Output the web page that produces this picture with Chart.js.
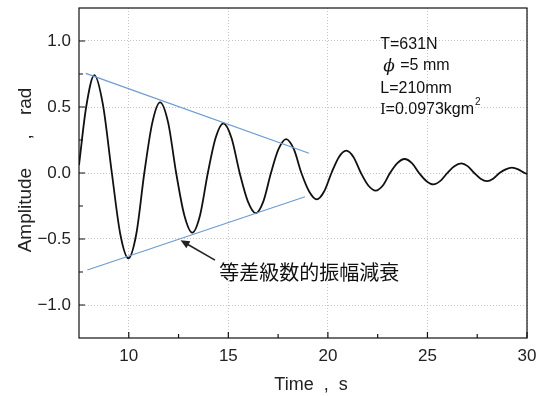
<!DOCTYPE html>
<html lang="ja">
<head>
<meta charset="UTF-8">
<title>Amplitude decay</title>
<script src="https://cdn.jsdelivr.net/npm/chart.js"></script>
<style>
  html, body { margin: 0; padding: 0; background: #fff; }
  #wrap { width: 540px; height: 396px; }
</style>
</head>
<body>
<div id="wrap"><canvas id="chart" width="540" height="396"></canvas></div>
<script>
// free oscillation record (peaks, troughs, zero crossings and mid points)
const timeS = [7.5, 7.86, 8.27, 8.7, 9.15, 9.57, 9.98, 10.38, 10.78, 11.18,
               11.57, 11.98, 12.38, 12.79, 13.19, 13.58, 13.97, 14.36, 14.75, 15.16,
               15.57, 15.98, 16.38, 16.76, 17.14, 17.52, 17.9, 18.29, 18.67, 19.06,
               19.44, 19.81, 20.18, 20.55, 20.92, 21.29, 21.66, 22.03, 22.4, 22.76,
               23.12, 23.49, 23.85, 24.22, 24.58, 24.94, 25.3, 25.65, 26.0, 26.35,
               26.7, 27.02, 27.35, 27.67, 27.99, 28.3, 28.62, 28.93, 29.24, 29.56,
               29.88, 30.0];
const ampRad = [0.06, 0.5, 0.742, 0.52, 0, -0.46, -0.646, -0.46, 0, 0.38,
                0.535, 0.38, 0, -0.32, -0.452, -0.32, 0, 0.265, 0.376, 0.265,
                0, -0.215, -0.305, -0.215, 0, 0.18, 0.256, 0.18, 0, -0.14,
                -0.2, -0.14, 0, 0.12, 0.169, 0.12, 0, -0.095, -0.134, -0.095,
                0, 0.075, 0.106, 0.075, 0, -0.06, -0.086, -0.06, 0, 0.052,
                0.073, 0.052, 0, -0.043, -0.061, -0.043, 0, 0.028, 0.04, 0.028,
                0, -0.006];

// straight envelopes (arithmetic decay)
const upperT = [7.84, 19.05];
const upperA = [0.755, 0.15];
const lowerT = [7.92, 18.85];
const lowerA = [-0.735, -0.18];

const xTicks = [10, 15, 20, 25, 30];
const xMinor = [12.5, 17.5, 22.5, 27.5];
const yTicks = [-1.0, -0.5, 0.0, 0.5, 1.0];
const yMinor = [-0.75, -0.25, 0.25, 0.75];

const pts = (xs, ys) => xs.map((v, i) => ({ x: v, y: ys[i] }));
const SANS = '"Liberation Sans", Arial, sans-serif';

// box, inward ticks, axis titles, parameter notes and the arrow label
const decor = {
  id: 'decor',
  afterDraw(chart) {
    const { ctx, chartArea: a, scales: { x, y } } = chart;
    ctx.save();
    ctx.strokeStyle = '#111';
    ctx.lineWidth = 1.2;
    ctx.strokeRect(a.left, a.top, a.right - a.left, a.bottom - a.top);

    ctx.beginPath();
    xTicks.forEach(v => { const p = x.getPixelForValue(v); ctx.moveTo(p, a.bottom); ctx.lineTo(p, a.bottom - 6); });
    xMinor.forEach(v => { const p = x.getPixelForValue(v); ctx.moveTo(p, a.bottom); ctx.lineTo(p, a.bottom - 4); });
    yTicks.forEach(v => { const p = y.getPixelForValue(v); ctx.moveTo(a.left, p); ctx.lineTo(a.left + 6, p); });
    yMinor.forEach(v => { const p = y.getPixelForValue(v); ctx.moveTo(a.left, p); ctx.lineTo(a.left + 4, p); });
    ctx.stroke();

    ctx.fillStyle = '#222';
    ctx.textBaseline = 'middle';
    ctx.textAlign = 'center';
    ctx.font = '18px ' + SANS;
    ctx.fillText('Time  ,  s', 311, 385);
    ctx.save();
    ctx.translate(26, 170);
    ctx.rotate(-Math.PI / 2);
    ctx.font = '19px ' + SANS;
    ctx.fillText('Amplitude\u2003\u2002,\u2003rad', 0, 0);
    ctx.restore();

    // parameters
    ctx.fillStyle = '#111';
    ctx.textAlign = 'left';
    const nx = x.getPixelForValue(22.63);
    ctx.font = '16px ' + SANS;
    ctx.fillText('T=631N', nx, y.getPixelForValue(0.97));

    let py = y.getPixelForValue(0.81);
    ctx.font = 'italic 17px "DejaVu Serif", serif';
    ctx.fillText('ϕ', nx + 3, py);
    ctx.font = '16px ' + SANS;
    ctx.fillText('=5 mm', nx + 20, py);

    ctx.fillText('L=210mm', nx, y.getPixelForValue(0.64));

    py = y.getPixelForValue(0.48);
    ctx.font = '16px "Liberation Serif", serif';
    ctx.fillText('I', nx, py);
    let cx = nx + ctx.measureText('I').width;
    ctx.font = '16px ' + SANS;
    ctx.fillText('=0.0973kgm', cx, py);
    cx += ctx.measureText('=0.0973kgm').width + 1;
    ctx.font = '10px ' + SANS;
    ctx.fillText('2', cx, py - 7);

    // arrow to the lower envelope
    const tx = x.getPixelForValue(12.6), ty = y.getPixelForValue(-0.51);
    const sx = x.getPixelForValue(14.33), sy = y.getPixelForValue(-0.66);
    const ang = Math.atan2(ty - sy, tx - sx);
    ctx.strokeStyle = '#222';
    ctx.lineWidth = 1.6;
    ctx.beginPath();
    ctx.moveTo(sx, sy);
    ctx.lineTo(tx - 6 * Math.cos(ang), ty - 6 * Math.sin(ang));
    ctx.stroke();
    ctx.fillStyle = '#222';
    ctx.beginPath();
    ctx.moveTo(tx, ty);
    ctx.lineTo(tx - 9 * Math.cos(ang) + 4 * Math.sin(ang), ty - 9 * Math.sin(ang) - 4 * Math.cos(ang));
    ctx.lineTo(tx - 9 * Math.cos(ang) - 4 * Math.sin(ang), ty - 9 * Math.sin(ang) + 4 * Math.cos(ang));
    ctx.closePath();
    ctx.fill();

    ctx.fillStyle = '#111';
    ctx.font = '20px "Noto Sans CJK JP", sans-serif';
    ctx.fillText('等差級数的振幅減衰', x.getPixelForValue(14.54), y.getPixelForValue(-0.75));
    ctx.restore();
  }
};

new Chart(document.getElementById('chart'), {
  type: 'line',
  data: {
    datasets: [
      { data: pts(upperT, upperA), borderColor: '#6b9bd1', borderWidth: 1.2, pointRadius: 0, tension: 0 },
      { data: pts(lowerT, lowerA), borderColor: '#6b9bd1', borderWidth: 1.2, pointRadius: 0, tension: 0 },
      { data: pts(timeS, ampRad), borderColor: '#111', borderWidth: 1.8, pointRadius: 0,
        cubicInterpolationMode: 'monotone' }
    ]
  },
  options: {
    responsive: false,
    animation: false,
    layout: { padding: { top: 8, right: 13, left: 0, bottom: 0 } },
    plugins: { legend: { display: false }, tooltip: { enabled: false } },
    scales: {
      x: {
        type: 'linear', min: 7.5, max: 30,
        afterBuildTicks: s => { s.ticks = xTicks.map(v => ({ value: v })); },
        afterFit: s => { s.height = 58; s.paddingLeft = 0; s.paddingRight = 0; },
        grid: { color: '#c4c4c4', lineWidth: 1, drawTicks: false },
        border: { display: false, dash: [1, 2] },
        ticks: { color: '#222', padding: 8, font: { family: SANS, size: 17 } }
      },
      y: {
        type: 'linear', min: -1.25, max: 1.25,
        afterBuildTicks: s => { s.ticks = yTicks.map(v => ({ value: v })); },
        afterFit: s => { s.width = 79; s.paddingTop = 0; s.paddingBottom = 0; },
        grid: { color: '#c4c4c4', lineWidth: 1, drawTicks: false },
        border: { display: false, dash: [1, 2] },
        ticks: { color: '#222', padding: 8, font: { family: SANS, size: 17 },
                 callback: v => (v < 0 ? '\u2212' : '') + Math.abs(v).toFixed(1) }
      }
    }
  },
  plugins: [decor]
});
</script>
</body>
</html>
